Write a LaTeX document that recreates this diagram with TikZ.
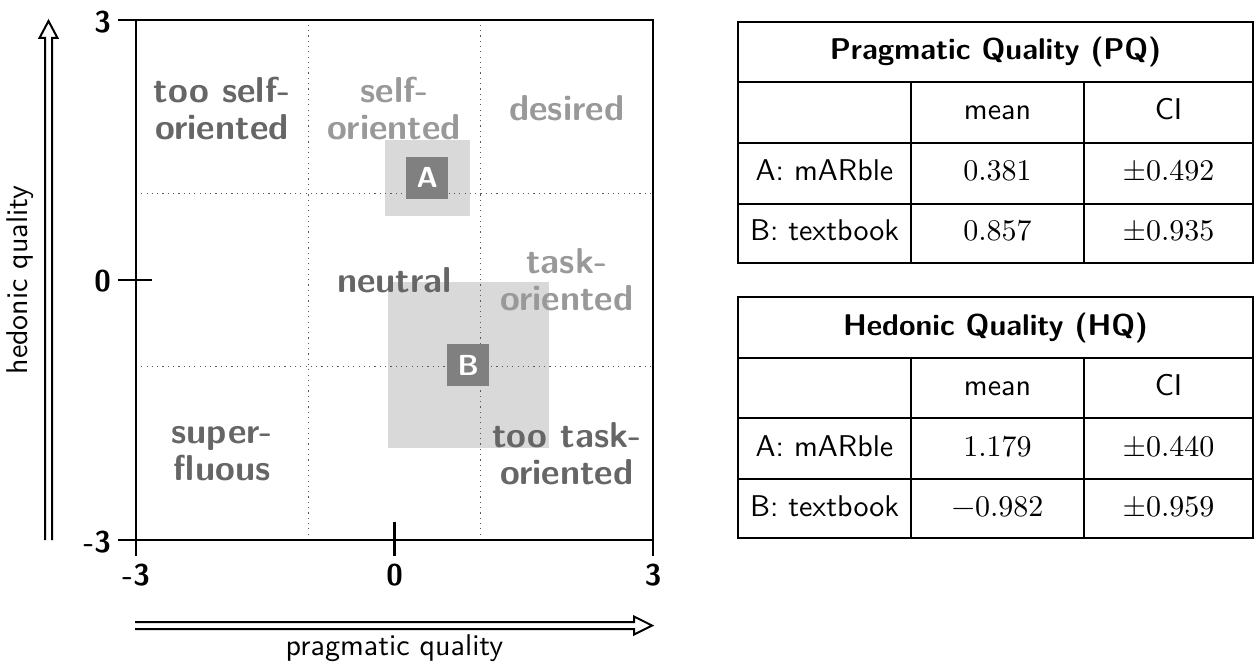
\documentclass[tikz,border=0pt]{standalone}
\usepackage{fontspec}
\setmainfont{lmroman10-regular.otf}
\setsansfont{lmsans10-regular.otf}[BoldFont=lmsans10-bold.otf]
\begin{document}
\begin{tikzpicture}[x=1pt,y=-1pt,
  reg/.style={font=\fontsize{36}{37}\selectfont\sffamily\bfseries, align=center, inner sep=0pt},
  dk/.style={text=black!60},
  lt/.style={text=black!40},
  axnum/.style={font=\fontsize{30}{36}\selectfont\sffamily\bfseries, inner sep=0pt},
  axtitle/.style={font=\fontsize{30}{36}\selectfont\sffamily, inner sep=0pt},
  thead/.style={font=\fontsize{30}{36}\selectfont\sffamily\bfseries, inner sep=0pt, text height=21pt, text depth=6pt},
  tcell/.style={font=\fontsize{30}{36}\selectfont\sffamily, inner sep=0pt, text height=21pt, text depth=6pt},
  tnum/.style={font=\fontsize{30}{36}\selectfont\rmfamily, inner sep=0pt, text height=21pt, text depth=6pt},
  ci/.style={fill=black!15, draw=none},
  pt/.style={fill=black!50, text=white, minimum size=42pt, inner sep=0pt, font=\fontsize{29}{32}\selectfont\sffamily\bfseries},
  grid/.style={black!65, line width=1.3pt, dash pattern=on 1.2pt off 4.1pt},
  frame/.style={line width=2.5pt},
  tab/.style={line width=1.5pt},
  dbl/.style={line width=2pt, line join=miter}]
\useasboundingbox (0,0) rectangle (1255,668);

% ---------- chart (units: -3..3) ----------
\begin{scope}[shift={(394.5,280)}, x=86.17pt, y=86.67pt]
  \fill[ci] (-0.111,0.739) rectangle (0.873,1.619);
  \fill[ci] (-0.078,-1.941) rectangle (1.792,-0.023);
  \draw[grid] (-1,-3) -- (-1,3);
  \draw[grid] (1,-3) -- (1,3);
  \draw[grid] (-3,1) -- (3,1);
  \draw[grid] (-3,-1) -- (3,-1);
  \node[reg,dk] (tooself) at (-2,1.98) {too self-\\oriented};
  \node[reg,lt] (self) at (0,1.98) {self-\\oriented};
  \node[reg,lt] (desired) at (2,1.98) {desired};
  \node[reg,dk] (neutral) at (0,0) {neutral};
  \node[reg,lt] (task) at (2,0) {task-\\oriented};
  \node[reg,dk] (super) at (-2,-2) {super-\\fluous};
  \node[reg,dk] (tootask) at (2,-2) {too task-\\oriented};
  \node[pt] (A) at (0.381,1.179) {A};
  \node[pt] (B) at (0.857,-0.982) {B};
  \draw[frame] (-3,-3) rectangle (3,3);
  \draw[frame] (-3.21,3) -- (-3,3);
  \draw[frame] (-3.21,0) -- (-2.82,0);
  \draw[frame] (-3.21,-3) -- (-3,-3);
  \draw[frame] (-3,-3) -- (-3,-3.19);
  \draw[frame] (0,-2.79) -- (0,-3.19);
  \draw[frame] (3,-3) -- (3,-3.19);
\end{scope}

% axis numbers
\node[axnum, anchor=east] (y3) at (111,22) {3};
\node[axnum, anchor=east] (y0) at (111,281) {0};
\node[axnum, anchor=east] (ym3) at (111,542) {-3};
\node[axnum] (xm3) at (136,575) {-3};
\node[axnum] (x0) at (394.5,575) {0};
\node[axnum] (x3) at (653,575) {3};

% axis arrows
\draw[dbl] (45,540) -- (45,38) -- (39.5,38) -- (48.5,21) -- (57.5,38) -- (52,38) -- (52,540);
\draw[dbl] (135,622) -- (634,622) -- (634,616.5) -- (652,625.5) -- (634,634.5) -- (634,629) -- (135,629);
\node[axtitle, rotate=90] (ytitle) at (20,280) {hedonic quality};
\node[axtitle] (xtitle) at (394.5,648) {pragmatic quality};

% ---------- table 1 ----------
\draw[tab] (738,22) rectangle (1253,263);
\draw[tab] (738,82) -- (1253,82);
\draw[tab] (738,143) -- (1253,143);
\draw[tab] (738,204) -- (1253,204);
\draw[tab] (911,82) -- (911,263);
\draw[tab] (1084,82) -- (1084,263);
\node[thead] (pqh) at (995.5,52) {Pragmatic Quality (PQ)};
\node[tcell] (pqmean) at (997.5,112.5) {mean};
\node[tcell] (pqci) at (1168.5,112.5) {CI};
\node[tcell] (pqa) at (824.5,173.5) {A: mARble};
\node[tnum] (pqam) at (997.5,173.5) {0.381};
\node[tnum] (pqac) at (1168.5,173.5) {±0.492};
\node[tcell] (pqb) at (824.5,233.5) {B: textbook};
\node[tnum] (pqbm) at (997.5,233.5) {0.857};
\node[tnum] (pqbc) at (1168.5,233.5) {±0.935};

% ---------- table 2 ----------
\draw[tab] (738,297) rectangle (1253,538);
\draw[tab] (738,358) -- (1253,358);
\draw[tab] (738,418) -- (1253,418);
\draw[tab] (738,479) -- (1253,479);
\draw[tab] (911,358) -- (911,538);
\draw[tab] (1084,358) -- (1084,538);
\node[thead] (hqh) at (995.5,327.5) {Hedonic Quality (HQ)};
\node[tcell] (hqmean) at (997.5,388) {mean};
\node[tcell] (hqci) at (1168.5,388) {CI};
\node[tcell] (hqa) at (824.5,448.5) {A: mARble};
\node[tnum] (hqam) at (997.5,448.5) {1.179};
\node[tnum] (hqac) at (1168.5,448.5) {±0.440};
\node[tcell] (hqb) at (824.5,508.5) {B: textbook};
\node[tnum] (hqbm) at (997.5,508.5) {−0.982};
\node[tnum] (hqbc) at (1168.5,508.5) {±0.959};
\end{tikzpicture}
\end{document}
